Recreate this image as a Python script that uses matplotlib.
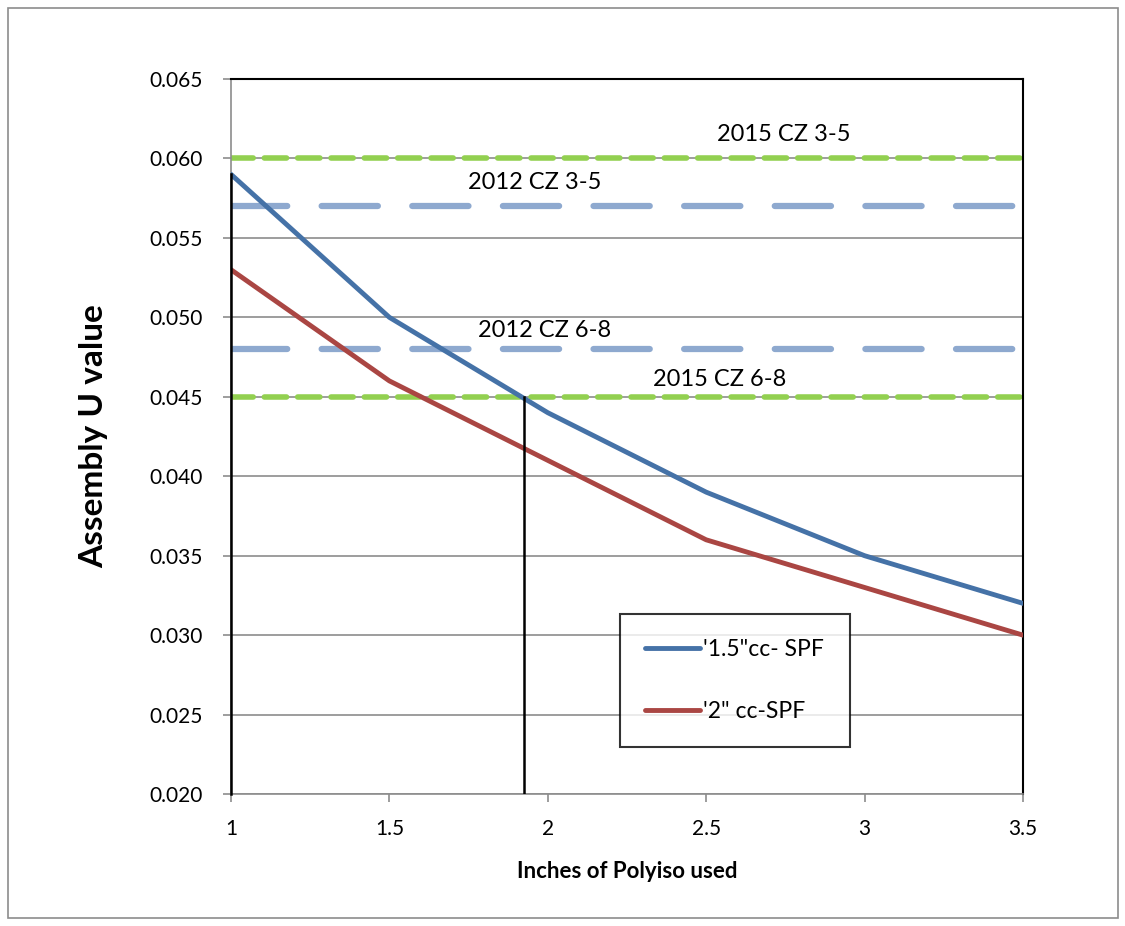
import matplotlib
matplotlib.use("Agg")
import matplotlib.pyplot as plt
from matplotlib.patches import Rectangle

x_inches = [1, 1.5, 2, 2.5, 3, 3.5]
u_15cc = [0.059, 0.050, 0.044, 0.039, 0.035, 0.032]
u_2cc = [0.053, 0.046, 0.041, 0.036, 0.033, 0.030]
ref_2015_35 = 0.060
ref_2012_35 = 0.057
ref_2012_68 = 0.048
ref_2015_68 = 0.045
cross_x = 1.925
yticks = [0.020, 0.025, 0.030, 0.035, 0.040, 0.045, 0.050, 0.055, 0.060, 0.065]
xticks = [1, 1.5, 2, 2.5, 3, 3.5]

plt.rcParams['font.family'] = ['Lato', 'DejaVu Sans']

fig = plt.figure(figsize=(11.25, 9.26), dpi=100)
fig.patches.append(Rectangle((0.007, 0.009), 0.987, 0.982, transform=fig.transFigure,
                             fill=False, edgecolor='#8c8c8c', linewidth=1.2))
ax = fig.add_axes([0.2053, 0.1425, 0.704, 0.7722])

ax.set_xlim(1, 3.5)
ax.set_ylim(0.020, 0.065)
ax.set_yticks(yticks)
ax.set_yticklabels([f"{v:.3f}" for v in yticks])
ax.set_xticks(xticks)
ax.set_xticklabels([f"{v:g}" for v in xticks])
ax.yaxis.grid(True, color='#8c8c8c', linewidth=1.2)
ax.set_axisbelow(True)
ax.tick_params(axis='both', colors='#8c8c8c', labelcolor='black', labelsize=15,
               length=6, width=1.2, direction='out')
ax.tick_params(axis='x', pad=12)
ax.tick_params(axis='y', pad=14)
for s in ['left', 'bottom']:
    ax.spines[s].set_color('#8c8c8c')
    ax.spines[s].set_linewidth(1.2)
for s in ['top', 'right']:
    ax.spines[s].set_color('black')
    ax.spines[s].set_linewidth(1.5)

green = '#92D050'
lblue = '#8EA9CF'
ax.axhline(ref_2015_35, color=green, lw=4, dashes=(4, 2), dash_capstyle='round', zorder=2)
ax.axhline(ref_2015_68, color=green, lw=4, dashes=(4, 2), dash_capstyle='round', zorder=2)
ax.axhline(ref_2012_35, color=lblue, lw=4.5, dashes=(9, 5.5), dash_capstyle='round', zorder=2)
ax.axhline(ref_2012_68, color=lblue, lw=4.5, dashes=(9, 5.5), dash_capstyle='round', zorder=2)

l1, = ax.plot(x_inches, u_15cc, color='#4572A7', lw=3.5, label="'1.5\"cc- SPF", zorder=4,
              solid_capstyle='round')
l2, = ax.plot(x_inches, u_2cc, color='#AA4643', lw=3.5, label="'2\" cc-SPF", zorder=4,
              solid_capstyle='round')

ax.plot([x_inches[0], x_inches[0]], [0.020, u_15cc[0]], color='black', lw=1.8, zorder=5, clip_on=False)
ax.plot([cross_x, cross_x], [0.020, ref_2015_68], color='black', lw=1.8, zorder=5)

tb = dict(facecolor='white', edgecolor='none', pad=1)
fs = 17
ax.text(2.746, 0.06148, '2015 CZ 3-5', fontsize=fs, ha='center', va='center', zorder=3)
ax.text(1.96, 0.05846, '2012 CZ 3-5', fontsize=fs, ha='center', va='center', zorder=3)
ax.text(1.991, 0.04916, '2012 CZ 6-8', fontsize=fs, ha='center', va='center', zorder=3, bbox=tb)
ax.text(2.544, 0.04608, '2015 CZ 6-8', fontsize=fs, ha='center', va='center', zorder=3)

ax.set_ylabel('Assembly U value', fontsize=24, fontweight='bold', labelpad=30)
ax.set_xlabel('Inches of Polyiso used', fontsize=16, fontweight='bold', labelpad=16)

leg = ax.legend(handles=[l1, l2], loc='upper left', bbox_to_anchor=(0.491, 0.2514),
                fontsize=16.5, frameon=True, fancybox=False, edgecolor='black',
                handlelength=2.4, labelspacing=1.75, borderpad=1.1, handletextpad=0.15,
                borderaxespad=0)
leg.get_frame().set_linewidth(1.5)
leg.set_zorder(6)

fig.savefig('out.png', dpi=100, facecolor='white')
